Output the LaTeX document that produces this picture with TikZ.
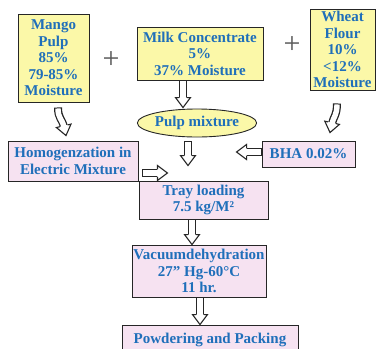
\documentclass[tikz,border=0pt]{standalone}
\usepackage{fontspec}
\setmainfont{Liberation Serif}
\usetikzlibrary{calc,shapes.geometric,decorations.markings}
\definecolor{txtblue}{HTML}{1F6FBA}
\definecolor{cyellow}{HTML}{FBF8A8}
\definecolor{cpink}{HTML}{F6E2F1}
\tikzset{
  boxbase/.style={draw=black!85, line width=0.9pt, text=txtblue,
    font=\fontsize{15}{16.5}\selectfont\bfseries, align=center, inner sep=0pt},
  ybox/.style={boxbase, fill=cyellow, rectangle},
  pbox/.style={boxbase, fill=cpink, rectangle},
  plussign/.style={font=\fontsize{30}{30}\selectfont, text=black!65, inner sep=0pt},
  harrow/.style={draw=black!85, line width=8pt, shorten >=9pt,
    postaction={draw=white, line width=5.4pt, shorten <=1pt},
    postaction={decorate, decoration={markings, mark=at position 1 with {
      \filldraw[draw=black!85, fill=white, line width=1.1pt, line join=miter,
        shorten >=0pt, shorten <=0pt]
        (-10pt,4pt) -- (-10pt,7.5pt) -- (0pt,0pt) -- (-10pt,-7.5pt) -- (-10pt,-4pt);}}}}
}
\begin{document}
\begin{tikzpicture}[x=1pt,y=-1pt]
\useasboundingbox (0,0) rectangle (376,349);
\clip (0,0) rectangle (376,349);
% top row
\node[ybox, minimum width=71pt, minimum height=88pt] (mango) at (53.5,58) {Mango\\Pulp\\85\%\\79-85\%\\Moisture};
\node[ybox, minimum width=126pt, minimum height=53pt] (milk) at (200,53.5) {Milk Concentrate\\5\%\\37\% Moisture};
\node[ybox, minimum width=65pt, minimum height=81pt] (wheat) at (342.5,49.5) {Wheat\\Flour\\10\%\\<12\%\\Moisture};
\node[plussign] (plus1) at (111,60) {+};
\node[plussign] (plus2) at (292,45) {+};
% middle
\node[boxbase, ellipse, fill=cyellow, minimum width=110pt, minimum height=28pt] (pulp) at (197,123) {Pulp mixture};
\node[pbox, minimum width=130pt, minimum height=40pt] (homog) at (73,161) {Homogenzation in\\Electric Mixture};
\node[pbox, minimum width=93pt, minimum height=26pt] (bha) at (308.5,154) {BHA 0.02\%};
\node[pbox, minimum width=129pt, minimum height=38pt] (tray) at (203.5,200) {Tray loading\\7.5 kg/M²};
\node[pbox, minimum width=134pt, minimum height=52pt] (vac) at (199,271) {Vacuumdehydration\\27\symbol{34} Hg-60°C\\11 hr.};
\node[pbox, minimum width=176pt, minimum height=30pt] (powder) at (210,340) {Powdering and Packing};
% arrows
\draw[harrow] (milk.south -| 183,0) -- ($(pulp.north -| 183,0)+(0,-1)$);
\draw[harrow] ($(pulp.south)+(-9,4)$) -- ($(tray.north)+(-15.5,-15)$);
\draw[harrow] ($(bha.west)+(0,-2)$) -- ($(bha.west)+(-25,-2)$);
\draw[harrow] ($(homog.east)+(4,12)$) -- ($(homog.east)+(29,12)$);
\draw[harrow] (tray.south -| 192,0) -- (vac.north -| 192,0);
\draw[harrow] (vac.south -| 200,0) -- (powder.north -| 200,0);
\draw[harrow] ($(mango.south)+(4.5,5)$) .. controls ($(mango.south)+(4.5,16)$) and ($(homog.north)+(-11,-22)$) .. ($(homog.north)+(-7,-5)$);
\draw[harrow] ($(wheat.south)+(-5.5,13)$) .. controls ($(wheat.south)+(-5.5,25)$) and ($(bha.north)+(25,-24)$) .. ($(bha.north)+(21.5,-8)$);
\end{tikzpicture}
\end{document}
